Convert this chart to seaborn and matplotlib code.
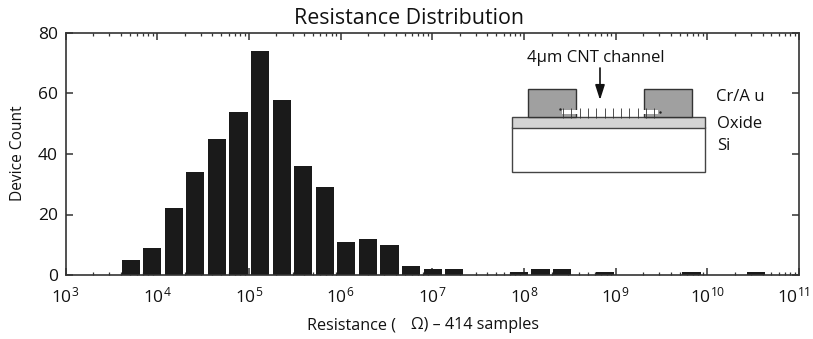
#!/usr/bin/env python3
import matplotlib

matplotlib.use("Agg")
import matplotlib.pyplot as plt
import numpy as np
import seaborn as sns
from matplotlib.patches import Rectangle
from matplotlib.ticker import FixedFormatter, FixedLocator, LogLocator, NullFormatter
from matplotlib.transforms import ScaledTranslation

# log10 of the bin centres, and the device count of each non-empty bin
log_resistance = [3.706, 3.941, 4.176, 4.412, 4.647, 4.882, 5.118, 5.353, 5.588, 5.824, 6.059,
                  6.294, 6.529, 6.765, 7.0, 7.235, 7.941, 8.176, 8.412, 8.882, 9.824, 10.529]
device_count = [5, 9, 22, 34, 45, 54, 74, 58, 36, 29, 11, 12, 10, 3, 2, 2, 1, 2, 2, 1, 1, 1]
x_exponents = [3, 4, 5, 6, 7, 8, 9, 10, 11]
y_ticks = [0, 20, 40, 60, 80]

FONT = "Open Sans"
INK = "#333333"
TEXT = "#111111"
W, H = 813, 339

sns.set_theme(style="ticks")
plt.rcParams["font.family"] = [FONT, "DejaVu Sans"]
plt.rcParams["mathtext.fontset"] = "custom"
plt.rcParams["mathtext.rm"] = FONT
plt.rcParams["mathtext.default"] = "rm"

fig = plt.figure(figsize=(W / 100, H / 100), dpi=100)
ax = fig.add_axes([65.5 / W, 1 - 275 / H, (799 - 65.5) / W, (275 - 33) / H])

sns.histplot(
    x=10 ** np.array(log_resistance), weights=device_count, log_scale=True,
    bins=35, binrange=(3 - 4 / 34, 11 + 4 / 34), shrink=0.85,
    color="#1a1a1a", edgecolor="none", alpha=1, ax=ax,
)
ax.set_xlim(1e3, 1e11)
ax.set_ylim(0, 80)

ax.xaxis.set_major_locator(FixedLocator([10.0 ** e for e in x_exponents]))
ax.xaxis.set_major_formatter(FixedFormatter([f"$10^{{{e}}}$" for e in x_exponents]))
ax.xaxis.set_minor_locator(LogLocator(base=10, subs=range(2, 10), numticks=20))
ax.xaxis.set_minor_formatter(NullFormatter())
ax.set_yticks(y_ticks)
ax.tick_params(axis="x", which="major", direction="in", length=5, width=1.1, top=True, color=INK,
               labelsize=12.5, labelcolor=TEXT, pad=8)
ax.tick_params(axis="x", which="minor", direction="in", length=2.5, width=0.9, top=True, color=INK)
ax.tick_params(axis="y", which="major", direction="in", length=5, width=1.1, right=True, color=INK,
               labelsize=12.5, labelcolor=TEXT, pad=5.5)
for spine in ax.spines.values():
    spine.set_visible(True)
    spine.set_linewidth(1.2)
    spine.set_color(INK)

# the last exponent label would run off the right edge
last = ax.xaxis.get_major_ticks()[-1].label1
last.set_transform(last.get_transform() + ScaledTranslation(-4 / 72, 0, fig.dpi_scale_trans))

ax.set_xlabel("")
ax.set_ylabel("")
fig.text(409 / W, 1 - 18 / H, "Resistance Distribution", fontsize=15.4, color=TEXT, ha="center", va="center")
fig.text(18 / W, 1 - 153 / H, "Device Count", fontsize=11.2, color=TEXT, rotation=90, ha="center", va="center")
fig.text(307 / W, 1 - 325 / H, "Resistance (", fontsize=11.6, color=TEXT, ha="left", va="center")
fig.text(411 / W, 1 - 325 / H, "Ω) – 414 samples", fontsize=11.6, color=TEXT, ha="left", va="center")

# device cross-section, laid out in image pixels
inset = fig.add_axes([0, 0, 1, 1], facecolor="none")
inset.set_xlim(0, W)
inset.set_ylim(H, 0)
inset.axis("off")
inset.add_patch(Rectangle((512, 127), 193, 45, fc="white", ec="#444444", lw=1))
inset.add_patch(Rectangle((512, 117), 193, 10.5, fc="#d4d4d4", ec="#444444", lw=1))
for left in (528, 644):
    inset.add_patch(Rectangle((left, 88.5), 47.5, 28, fc="#a0a0a0", ec="#333333", lw=1))
inset.add_patch(Rectangle((562, 109.5), 96, 4.5, fc="white", ec="none"))
inset.vlines([563 + 8.3 * i for i in range(12)], 108, 118, color="#333333", lw=0.6)
inset.plot([559.5, 660], [108.5, 112], ls="none", marker=".", ms=1.5, color="#222222")
inset.annotate("", xy=(600, 100), xytext=(600, 68),
               arrowprops=dict(arrowstyle="-|>,head_width=0.24,head_length=0.75", color=TEXT, lw=1.2,
                               shrinkA=0, shrinkB=0))
inset.text(527, 58, "4µm CNT channel", fontsize=12, color=TEXT, va="center")
inset.text(716, 97, "Cr/A u", fontsize=12, color=TEXT, va="center")
inset.text(717, 124, "Oxide", fontsize=12, color=TEXT, va="center")
inset.text(717, 146, "Si", fontsize=12, color=TEXT, va="center")

fig.savefig("out.png", dpi=100)
